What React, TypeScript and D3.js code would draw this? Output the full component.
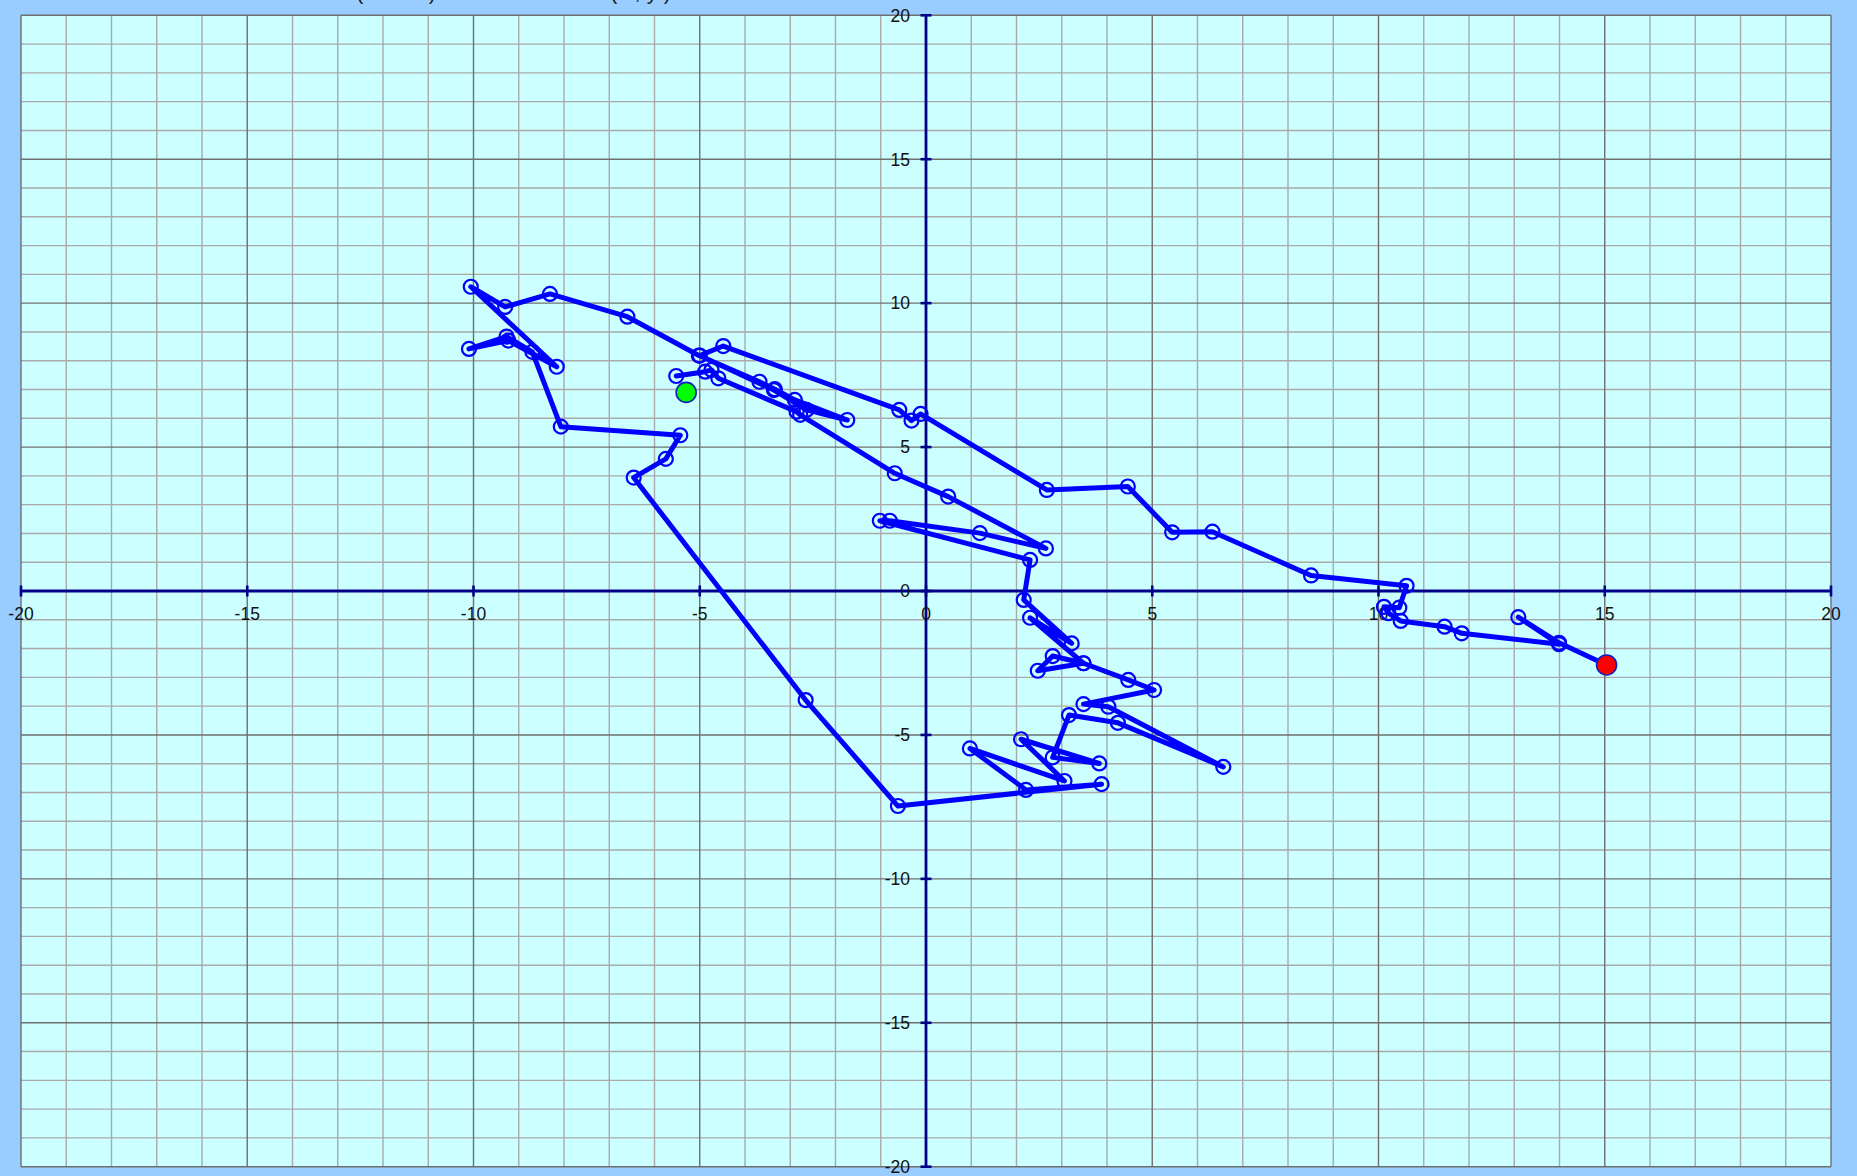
import React from 'react';
import * as d3 from 'd3';

const W = 1857;
const H = 1176;

// axis tick values
const xTickValues = [-20, -15, -10, -5, 0, 5, 10, 15, 20];
const yTickValues = [-20, -15, -10, -5, 0, 5, 10, 15, 20];
const gridValues = d3.range(-20, 21);

// random-walk path (x, y) in visiting order
const walkX = [-5.52, -4.88, -4.74, -4.59, -2.86, -2.78, -0.69, 0.49, 2.65, 1.19, -0.80, -1.02, 2.30, 2.16, 3.22, 2.30, 3.48, 2.80, 2.47, 3.48, 4.47, 5.04, 3.48, 4.03, 6.57, 4.24, 3.16, 2.80, 3.83, 2.10, 3.06, 0.97, 2.21, 3.88, -0.62, -2.66, -6.46, -5.75, -5.43, -8.07, -8.70, -9.27, -10.10, -9.23, -8.16, -10.06, -9.30, -8.31, -6.60, -5.02, -3.68, -3.34, -2.90, -1.74, -2.64, -3.36, -5.00, -4.48, -0.59, -0.32, -0.12, 2.67, 4.46, 5.44, 6.33, 8.51, 10.62, 10.46, 10.12, 10.22, 10.49, 11.46, 11.84, 13.99, 13.09, 13.99, 15.04];
const walkY = [7.47, 7.62, 7.68, 7.39, 6.23, 6.12, 4.09, 3.28, 1.48, 2.01, 2.44, 2.44, 1.08, -0.31, -1.82, -0.93, -2.51, -2.26, -2.77, -2.51, -3.09, -3.44, -3.93, -4.02, -6.11, -4.58, -4.31, -5.78, -5.99, -5.15, -6.60, -5.47, -6.91, -6.71, -7.47, -3.79, 3.94, 4.59, 5.41, 5.71, 8.31, 8.84, 8.41, 8.70, 7.79, 10.57, 9.87, 10.32, 9.53, 8.18, 7.27, 7.01, 6.64, 5.94, 6.29, 6.98, 8.18, 8.51, 6.29, 5.92, 6.15, 3.51, 3.63, 2.04, 2.06, 0.54, 0.18, -0.58, -0.55, -0.77, -1.04, -1.24, -1.47, -1.85, -0.91, -1.80, -2.57];

// special markers
const startMarker = { x: -5.30, y: 6.90 };
const endMarker = { x: 15.04, y: -2.57 };

const FONT = "'Liberation Sans', Arial, Helvetica, sans-serif";

export default function App() {
  const x = d3.scaleLinear().domain([-20, 20]).range([21, 1831]);
  const y = d3.scaleLinear().domain([-20, 20]).range([1166.7, 15.3]);

  const idx = d3.range(walkX.length);
  const line = d3
    .line<number>()
    .x((i) => x(walkX[i]))
    .y((i) => y(walkY[i]));
  const pathD = line(idx) || '';

  const x0 = x(0);
  const y0 = y(0);

  return (
    <div style={{ position: 'absolute', left: 0, top: 0, width: W, height: H, overflow: 'hidden' }}>
      <svg width={W} height={H} style={{ display: 'block' }}>
        <rect x={0} y={0} width={W} height={H} fill="#99CCFF" />
        <rect
          x={x(-20)}
          y={y(20)}
          width={x(20) - x(-20)}
          height={y(-20) - y(20)}
          fill="#CCFFFF"
        />
        {/* title fragments cut off at the top */}
        <text x={356} y={-1} fontFamily={FONT} fontSize={22} fill="#222">
          (N = 72)
        </text>
        <text x={610} y={-1} fontFamily={FONT} fontSize={22} fill="#222">
          (x , y )
        </text>
        {/* minor grid */}
        {gridValues
          .filter((v) => v % 5 !== 0)
          .map((v) => (
            <line key={'vx' + v} x1={x(v)} x2={x(v)} y1={y(20)} y2={y(-20)} stroke="#a9a9a9" strokeWidth={1.4} />
          ))}
        {gridValues
          .filter((v) => v % 5 !== 0)
          .map((v) => (
            <line key={'hy' + v} y1={y(v)} y2={y(v)} x1={x(-20)} x2={x(20)} stroke="#a9a9a9" strokeWidth={1.4} />
          ))}
        {/* major grid */}
        {gridValues
          .filter((v) => v % 5 === 0)
          .map((v) => (
            <line key={'Vx' + v} x1={x(v)} x2={x(v)} y1={y(20)} y2={y(-20)} stroke="#6f6f6f" strokeWidth={1.4} />
          ))}
        {gridValues
          .filter((v) => v % 5 === 0)
          .map((v) => (
            <line key={'Hy' + v} y1={y(v)} y2={y(v)} x1={x(-20)} x2={x(20)} stroke="#6f6f6f" strokeWidth={1.4} />
          ))}
        {/* axes */}
        <line x1={x(-20)} x2={x(20)} y1={y0} y2={y0} stroke="#000088" strokeWidth={2.8} />
        <line x1={x0} x2={x0} y1={y(20)} y2={y(-20)} stroke="#000088" strokeWidth={2.8} />
        {xTickValues.map((v) => (
          <g key={'xt' + v}>
            <line x1={x(v)} x2={x(v)} y1={y0 - 5.5} y2={y0 + 5.5} stroke="#000088" strokeWidth={2.6} />
            <text x={x(v)} y={y0 + 29} textAnchor="middle" fontFamily={FONT} fontSize={17.5} fill="#111">
              {v}
            </text>
          </g>
        ))}
        {yTickValues.map((v) => (
          <g key={'yt' + v}>
            <line x1={x0 - 5.5} x2={x0 + 5.5} y1={y(v)} y2={y(v)} stroke="#000088" strokeWidth={2.6} />
            <text x={x0 - 16} y={y(v)} dy="0.36em" textAnchor="end" fontFamily={FONT} fontSize={17.5} fill="#111">
              {v}
            </text>
          </g>
        ))}
        {/* walk path */}
        <path d={pathD} fill="none" stroke="#0000FF" strokeWidth={5} strokeLinejoin="round" strokeLinecap="round" />
        {idx.map((i) => (
          <circle key={'p' + i} cx={x(walkX[i])} cy={y(walkY[i])} r={7} fill="none" stroke="#0000FF" strokeWidth={2.2} />
        ))}
        <circle cx={x(startMarker.x)} cy={y(startMarker.y)} r={10} fill="#00FF00" stroke="#1020C0" strokeWidth={1.6} />
        <circle cx={x(endMarker.x)} cy={y(endMarker.y)} r={10} fill="#FF0000" stroke="#1020C0" strokeWidth={1.6} />
      </svg>
    </div>
  );
}
